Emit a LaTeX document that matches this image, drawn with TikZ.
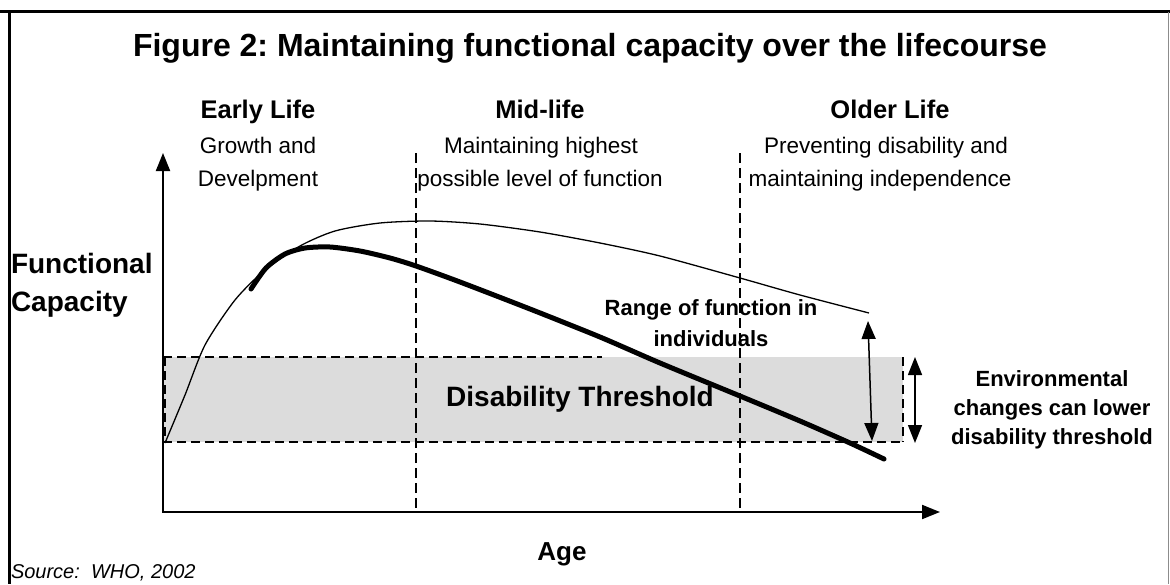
\documentclass[tikz,border=0pt]{standalone}
\usepackage{fontspec}
\setmainfont{Liberation Sans}
\usetikzlibrary{arrows.meta}
\definecolor{band}{HTML}{DCDCDC}
\definecolor{rule}{HTML}{8C8C8C}
\frenchspacing
\begin{document}
\begin{tikzpicture}[x=1pt,y=-1pt,
  tip/.style={-{Triangle[length=18pt,width=14pt]}},
  axis/.style={line width=2pt,tip},
  twoway/.style={line width=1.5pt,{Triangle[length=18pt,width=14pt]}-{Triangle[length=18pt,width=14pt]}},
  divider/.style={line width=2pt,dash pattern=on 10pt off 5pt},
  bandedge/.style={line width=2pt,dash pattern=on 9pt off 5pt},
  title/.style={font=\fontsize{32}{36}\selectfont\bfseries,anchor=base},
  head/.style={font=\fontsize{25.5}{30}\selectfont\bfseries,anchor=base},
  sub/.style={font=\fontsize{22.5}{26}\selectfont,anchor=base},
  lab/.style={font=\fontsize{28}{32}\selectfont\bfseries,anchor=base west},
  note/.style={font=\fontsize{22}{26}\selectfont\bfseries,anchor=base},
  thincurve/.style={line width=1.3pt,line join=round},
  thickcurve/.style={line width=5pt,line join=round,line cap=round},
  inner sep=0pt,outer sep=0pt]
\useasboundingbox (0,0) rectangle (1170,584);

% frame
\draw[line width=3pt] (0,11) -- (1170,11);
\draw[line width=3pt] (9,10) -- (9,584);
\draw[rule,line width=1pt] (1168,12) -- (1168,584);

% title
\node[title] (ttl) at (590,56) {Figure 2: Maintaining functional capacity over the lifecourse};

% life stage headings
\node[head] (early) at (258,118) {Early Life};
\node[sub] (early1) at (258,153) {Growth and};
\node[sub] (early2) at (258,186) {Develpment};
\node[head] (mid) at (540,118) {Mid-life};
\node[sub] (mid1) at (541,153) {Maintaining highest};
\node[sub] (mid2) at (540,186) {possible level of function};
\node[head] (old) at (890,118) {Older Life};
\node[sub] (old1) at (886,153) {Preventing disability and};
\node[sub] (old2) at (880,186) {maintaining independence};

% disability threshold band
\fill[band] (163,357) rectangle (903,442);
\draw[bandedge] (163,357) -- (602,357);
\draw[bandedge] (165,357) -- (165,442);
\draw[bandedge] (163,442) -- (903,442);
\draw[bandedge] (903,357) -- (903,442);
\node[font=\fontsize{28}{32}\selectfont\bfseries,anchor=base] (thr) at (580,406) {Disability Threshold};

% annotations
\node[note] (rng1) at (711,315) {Range of function in};
\node[note] (rng2) at (711,346) {individuals};
\node[note] (env1) at (1052,386) {Environmental};
\node[note] (env2) at (1052,415) {changes can lower};
\node[note] (env3) at (1052,444) {disability threshold};

% stage dividers
\draw[divider] (416,153) -- (416,510);
\draw[divider] (740,153) -- (740,510);

% axes
\coordinate (o) at (163,512);
\coordinate (ytop) at (163,153);
\coordinate (xend) at (940,512);
\draw[axis] (o) -- (ytop);
\draw[axis] (162,512) -- (xend);

% range of function curves
\draw[thincurve] plot[smooth,tension=0.45] coordinates {(165,443) (185,395) (205,345) (235,300) (265,270) (300,246) (335,231) (380,223) (430,221) (480,224) (540,232) (600,243) (660,256) (740,278) (800,295) (869,313)};
\draw[thickcurve] plot[smooth,tension=0.45] coordinates {(251,289) (266,268) (285,254) (305,248) (330,247) (360,251) (390,258) (416,266) (460,282) (530,309) (600,337) (660,363) (740,396) (800,421) (850,443) (884,459)};

% double arrows
\coordinate (rtop) at (868,321);
\coordinate (rbot) at (872,441);
\draw[twoway] (rtop) -- (rbot);
\coordinate (etop) at (915,357);
\coordinate (ebot) at (915,443);
\draw[twoway] (etop) -- (ebot);

% axis labels
\node[lab] (fc1) at (11,273) {Functional};
\node[lab] (fc2) at (11,311) {Capacity};
\node[font=\fontsize{26}{30}\selectfont\bfseries,anchor=base] (age) at (562,560) {Age};
\node[font=\fontsize{20}{24}\selectfont\itshape,anchor=base west] (src) at (11,578) {Source:\ \ WHO, 2002};
\end{tikzpicture}
\end{document}
